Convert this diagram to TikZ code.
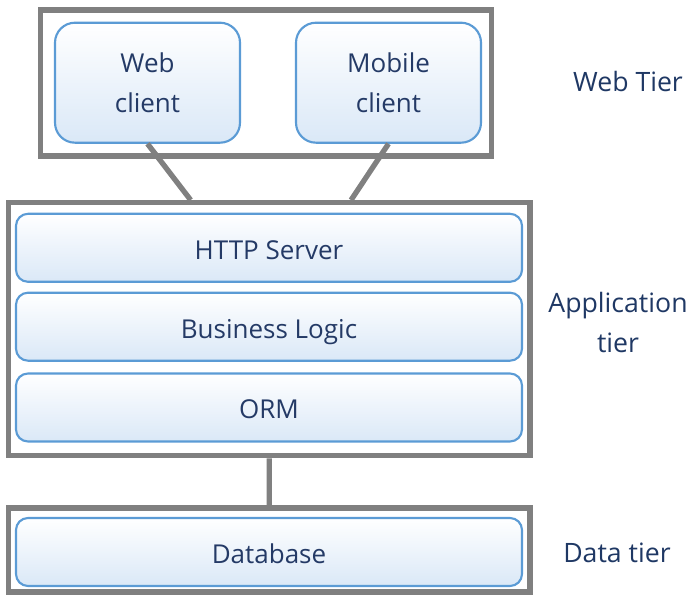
\documentclass[tikz,border=0pt]{standalone}
\usepackage{fontspec}
\setmainfont{Open Sans}
\usepackage{tikz}
\definecolor{tiergray}{RGB}{128,128,128}
\definecolor{boxedge}{RGB}{91,155,213}
\definecolor{boxfill}{RGB}{218,232,247}
\definecolor{boxtext}{RGB}{36,58,102}
\definecolor{tiertext}{RGB}{31,56,100}
\tikzset{
	tier/.style={draw=tiergray,line width=4pt,minimum width=391pt},
	panel/.style={draw=boxedge,line width=1.6pt,rounded corners=9pt,
		top color=white,middle color=white,bottom color=boxfill,
		text=boxtext,font=\fontsize{19.5}{29.5}\selectfont,align=center},
	part/.style={panel,minimum width=379.5pt,minimum height=51pt,
		text height=19pt,text depth=2pt},
	client/.style={panel,rounded corners=15pt,minimum width=138.75pt,minimum height=90pt},
	tiername/.style={text=tiertext,font=\fontsize{20}{30}\selectfont,align=center},
	link/.style={draw=tiergray,line width=4pt}
}

\begin{document}
\begin{tikzpicture}[x=0.75pt,y=-0.75pt]
	\useasboundingbox (0,0) rectangle (692,595);
	\node[tier,minimum width=338.25pt,minimum height=109.5pt] (webtier) at (266,83) {};
	\node[client] (web) at (147.5,82.7) {Web\\client};
	\node[client] (mobile) at (388.5,82.7) {Mobile\\client};
	\node[tier,minimum height=189.75pt] (apptier) at (269.3,329.2) {};
	\node[part] (http) at (269,247.8) {HTTP Server};
	\node[part] (logic) at (269,326.7) {Business Logic};
	\node[part] (orm) at (269,407.5) {ORM};
	\node[tier,minimum height=63pt] (datatier) at (269.3,550) {};
	\node[part] (db) at (269,552) {Database};
	\node[tiername] (webname) at (628,82) {Web Tier};
	\node[tiername] (appname) at (618,322) {Application\\tier};
	\node[tiername] (dataname) at (617,553) {Data tier};
	\path[link]
		(web.south) -- ([xshift=-59pt]apptier.north)
		(mobile.south) -- ([xshift=61.3pt]apptier.north)
		(apptier.south) -- (datatier.north);
\end{tikzpicture}
\end{document}
